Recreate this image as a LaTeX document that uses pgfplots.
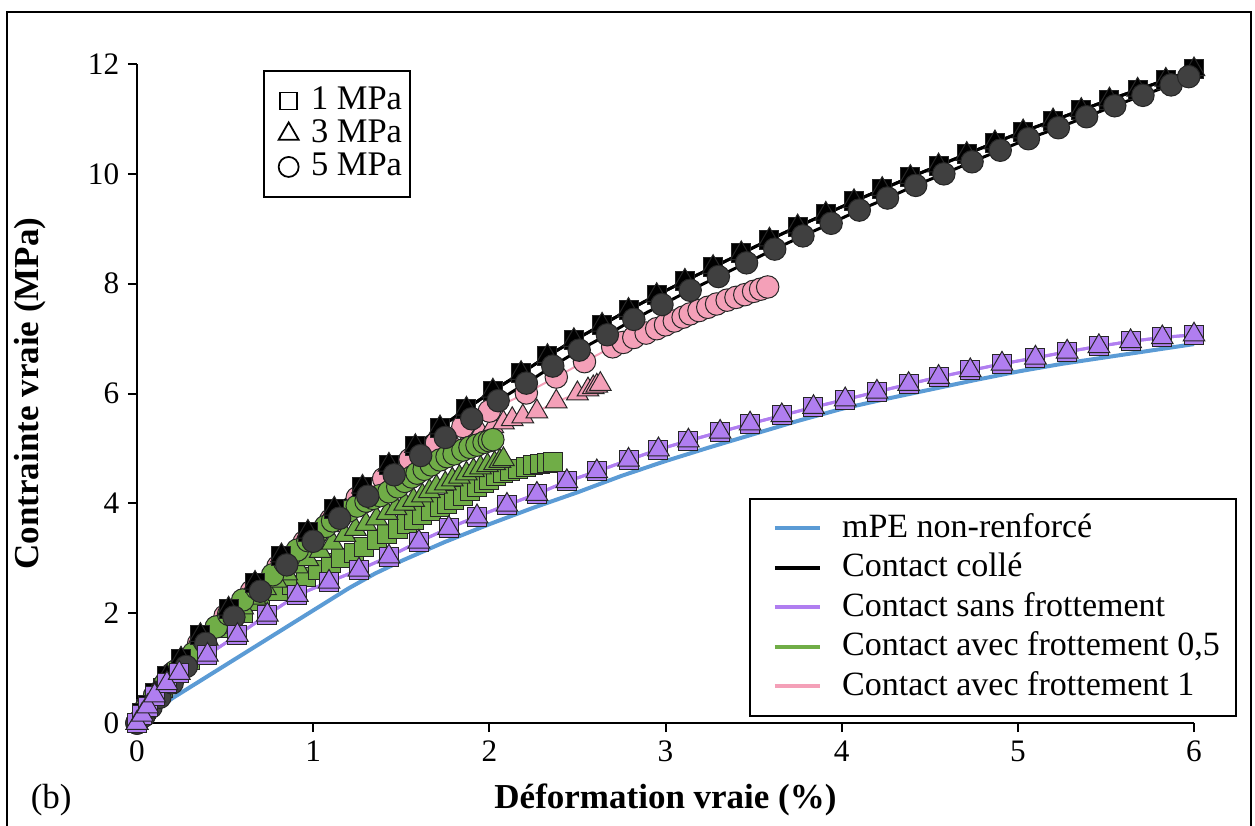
\documentclass[border=0pt]{standalone}
\usepackage{fontspec}
\setmainfont{Liberation Serif}
\usepackage{pgfplots}
\pgfplotsset{compat=1.18}
\definecolor{cblue}{HTML}{5B9BD5}
\definecolor{cpurp}{HTML}{B07EF0}
\definecolor{cgreen}{HTML}{70AD47}
\definecolor{cpink}{HTML}{F4A0B8}
\definecolor{cgray}{HTML}{404040}
\pgfplotsset{
  msq/.style={mark=square*, mark size=3.8pt},
  mtr/.style={mark=triangle*, mark size=5pt},
  mci/.style={mark=*, mark size=4.5pt},
  mk/.style={mark options={solid, draw=black!85, line width=0.4pt, fill=#1}},
}
\begin{document}
\begin{tikzpicture}
\path[use as bounding box] (-54.8pt,-40.8pt) rectangle (447.2pt,289.2pt);
\draw[line width=0.9pt] (-52pt,-45pt) rectangle (445.6pt,284.4pt);
\begin{axis}[
  at={(0pt,0pt)}, anchor=south west, scale only axis,
  width=422.8pt, height=263.6pt,
  xmin=0, xmax=6, ymin=0, ymax=12,
  axis lines*=left, axis line style={-, line width=0.8pt},
  tick align=outside, major tick length=3.6pt,
  tick style={line width=0.8pt, black},
  xtick={0,1,...,6}, ytick={0,2,...,12},
  clip=false,
  /pgf/number format/assume math mode=true,
  ticklabel style={font=\fontsize{12.5}{14}\selectfont},
  xlabel={Déformation vraie (\%)},
  ylabel={Contrainte vraie (MPa)},
  label style={font=\fontsize{14}{16}\selectfont\bfseries},
  xlabel style={at={(axis description cs:0.5,-0.117)}, anchor=center},
  ylabel style={at={(axis description cs:-0.101,0.5)}, anchor=center},
  legend style={at={(axis description cs:1.0407,0.009)}, anchor=south east,
    draw=black, line width=0.8pt, inner xsep=4.5pt, inner ysep=4pt,
    font=\fontsize{13.6}{15}\selectfont,
    nodes={text height=10pt, text depth=3pt, inner ysep=1.4pt, inner xsep=2pt}},
  legend cell align=left,
  legend image code/.code={\draw[#1, line width=1.6pt] (5pt,0pt) -- (23pt,0pt); \path (0pt,0pt) (29.5pt,0pt);},
]
% ---------- Contact avec frottement 1 (pink) ----------
\addplot[forget plot, cpink, line width=0.8pt, mtr, mk=cpink] coordinates {
(0,0)(0.1,0.5)(0.2,0.9)(0.35,1.4)(0.5,1.9)(0.65,2.35)(0.8,2.78)(0.95,3.2)(1.1,3.6)(1.25,3.95)(1.4,4.3)(1.55,4.6)(1.7,4.9)(1.8,5.07)(1.88,5.19)(1.95,5.3)(2.02,5.4)(2.08,5.47)(2.13,5.53)(2.19,5.58)(2.27,5.67)(2.38,5.85)(2.50,6.0)(2.56,6.07)(2.59,6.11)(2.61,6.14)(2.63,6.17)
};
\addplot[forget plot, cpink, line width=0.8pt, mci, mk=cpink] coordinates {
(0,0)(0.1,0.5)(0.2,0.9)(0.35,1.45)(0.5,1.95)(0.65,2.4)(0.8,2.85)(0.95,3.3)(1.1,3.7)(1.25,4.1)(1.4,4.45)(1.55,4.8)(1.7,5.1)(1.85,5.4)(2.0,5.68)(2.21,6.01)(2.38,6.30)(2.54,6.58)(2.70,6.85)(2.76,6.93)(2.82,7.02)(2.89,7.10)(2.95,7.18)(3.0,7.25)(3.05,7.32)(3.1,7.39)(3.14,7.45)(3.19,7.51)(3.24,7.57)(3.29,7.63)(3.35,7.70)(3.40,7.75)(3.45,7.80)(3.50,7.86)(3.54,7.90)(3.58,7.94)
};
% ---------- Contact avec frottement 0,5 (green) ----------
\addplot[forget plot, cgreen, line width=0.8pt, msq, mk=cgreen] coordinates {
(0,0)(0.05,0.25)(0.1,0.45)(0.15,0.63)(0.2,0.8)(0.3,1.15)(0.4,1.45)(0.5,1.73)(0.6,2.0)(0.7,2.22)(0.8,2.40)(0.88,2.52)(0.96,2.66)(1.03,2.79)(1.10,2.91)(1.16,3.0)(1.23,3.10)(1.29,3.21)(1.36,3.33)(1.42,3.45)(1.48,3.54)(1.53,3.62)(1.57,3.70)(1.62,3.78)(1.67,3.86)(1.72,3.93)(1.76,3.99)(1.80,4.06)(1.85,4.13)(1.89,4.22)(1.93,4.29)(1.97,4.37)(2.00,4.43)(2.04,4.49)(2.08,4.55)(2.12,4.59)(2.16,4.62)(2.21,4.66)(2.25,4.69)(2.29,4.72)(2.33,4.74)(2.36,4.76)
};
\addplot[forget plot, cgreen, line width=0.8pt, mtr, mk=cgreen] coordinates {
(0,0)(0.05,0.27)(0.1,0.5)(0.15,0.7)(0.2,0.9)(0.27,1.12)(0.33,1.3)(0.4,1.53)(0.47,1.75)(0.53,1.92)(0.6,2.1)(0.67,2.28)(0.73,2.45)(0.79,2.59)(0.85,2.72)(0.91,2.85)(0.97,2.98)(1.04,3.13)(1.11,3.28)(1.18,3.42)(1.24,3.53)(1.30,3.62)(1.36,3.72)(1.42,3.82)(1.47,3.91)(1.52,3.99)(1.57,4.06)(1.62,4.14)(1.66,4.22)(1.70,4.30)(1.75,4.36)(1.79,4.43)(1.83,4.48)(1.87,4.54)(1.91,4.60)(1.95,4.65)(1.99,4.69)(2.03,4.73)(2.06,4.77)(2.08,4.80)
};
\addplot[forget plot, cgreen, line width=0.8pt, mci, mk=cgreen] coordinates {
(0,0)(0.05,0.27)(0.1,0.5)(0.16,0.72)(0.22,0.95)(0.32,1.27)(0.38,1.5)(0.45,1.75)(0.52,1.98)(0.6,2.24)(0.68,2.45)(0.77,2.70)(0.84,2.92)(0.91,3.15)(0.97,3.32)(1.02,3.45)(1.07,3.58)(1.11,3.68)(1.15,3.77)(1.20,3.86)(1.25,3.95)(1.30,4.04)(1.34,4.09)(1.38,4.14)(1.43,4.21)(1.48,4.30)(1.52,4.40)(1.56,4.48)(1.59,4.55)(1.63,4.62)(1.67,4.70)(1.72,4.79)(1.76,4.85)(1.80,4.90)(1.85,4.97)(1.89,5.02)(1.93,5.06)(1.97,5.11)(2.00,5.14)(2.02,5.16)
};
% ---------- Contact colle (black) ----------
\addplot[forget plot, black, line width=1.2pt, msq, mk=black] coordinates {
(0,0)(0.03,0.18)(0.06,0.33)(0.10,0.55)(0.17,0.85)(0.25,1.17)(0.36,1.60)(0.52,2.08)(0.67,2.55)(0.82,3.05)(0.97,3.48)(1.12,3.90)(1.28,4.30)(1.43,4.70)(1.58,5.04)(1.72,5.38)(1.87,5.72)(2.02,6.05)(2.18,6.37)(2.33,6.68)(2.48,6.97)(2.64,7.25)(2.79,7.52)(2.95,7.79)(3.11,8.05)(3.27,8.30)(3.43,8.55)(3.59,8.80)(3.75,9.04)(3.91,9.27)(4.07,9.50)(4.23,9.72)(4.39,9.94)(4.55,10.15)(4.71,10.36)(4.87,10.57)(5.03,10.77)(5.20,10.97)(5.36,11.16)(5.52,11.35)(5.68,11.53)(5.84,11.71)(6.00,11.90)
};
\addplot[forget plot, black, line width=1.2pt, mtr, mk=black] coordinates {
(0,0)(0.03,0.18)(0.06,0.33)(0.10,0.55)(0.17,0.85)(0.25,1.17)(0.36,1.60)(0.52,2.08)(0.67,2.55)(0.82,3.05)(0.97,3.48)(1.12,3.90)(1.28,4.30)(1.43,4.70)(1.58,5.04)(1.72,5.38)(1.87,5.72)(2.02,6.05)(2.18,6.37)(2.33,6.68)(2.48,6.97)(2.64,7.25)(2.79,7.52)(2.95,7.79)(3.11,8.05)(3.27,8.30)(3.43,8.55)(3.59,8.80)(3.75,9.04)(3.91,9.27)(4.07,9.50)(4.23,9.72)(4.39,9.94)(4.55,10.15)(4.71,10.36)(4.87,10.57)(5.03,10.77)(5.20,10.97)(5.36,11.16)(5.52,11.35)(5.68,11.53)(5.84,11.71)(6.00,11.90)
};
\addplot[forget plot, black, line width=1.2pt, mci, mk=cgray] coordinates {
(0,0)(0.04,0.13)(0.08,0.29)(0.13,0.47)(0.20,0.73)(0.28,1.03)(0.39,1.45)(0.55,1.93)(0.70,2.40)(0.85,2.88)(1.00,3.31)(1.15,3.73)(1.31,4.13)(1.46,4.52)(1.61,4.87)(1.75,5.20)(1.90,5.54)(2.05,5.87)(2.21,6.19)(2.36,6.50)(2.51,6.79)(2.67,7.07)(2.82,7.35)(2.98,7.62)(3.14,7.88)(3.30,8.13)(3.46,8.38)(3.62,8.63)(3.78,8.87)(3.94,9.10)(4.10,9.34)(4.26,9.56)(4.42,9.79)(4.58,10.00)(4.74,10.22)(4.90,10.43)(5.06,10.64)(5.23,10.84)(5.39,11.04)(5.55,11.24)(5.71,11.43)(5.87,11.62)(5.97,11.77)
};
% ---------- Contact sans frottement (purple) ----------
\addplot[forget plot, cpurp, line width=1.2pt, msq, mk=cpurp] coordinates {
(0,0)(0.03,0.15)(0.06,0.3)(0.10,0.5)(0.17,0.72)(0.24,0.91)(0.40,1.24)(0.57,1.60)(0.74,1.97)(0.91,2.33)(1.09,2.57)(1.26,2.79)(1.43,3.03)(1.60,3.30)(1.77,3.55)(1.93,3.76)(2.10,3.97)(2.27,4.17)(2.44,4.40)(2.61,4.58)(2.79,4.79)(2.96,4.98)(3.13,5.14)(3.31,5.30)(3.48,5.45)(3.66,5.60)(3.84,5.75)(4.02,5.89)(4.20,6.03)(4.38,6.17)(4.55,6.30)(4.73,6.42)(4.91,6.54)(5.10,6.65)(5.28,6.76)(5.46,6.86)(5.64,6.95)(5.82,7.02)(6.00,7.07)
};
\addplot[forget plot, cpurp, line width=1.2pt, mtr, mk=cpurp] coordinates {
(0,0)(0.03,0.15)(0.06,0.3)(0.10,0.5)(0.17,0.72)(0.24,0.91)(0.40,1.24)(0.57,1.60)(0.74,1.97)(0.91,2.33)(1.09,2.57)(1.26,2.79)(1.43,3.03)(1.60,3.30)(1.77,3.55)(1.93,3.76)(2.10,3.97)(2.27,4.17)(2.44,4.40)(2.61,4.58)(2.79,4.79)(2.96,4.98)(3.13,5.14)(3.31,5.30)(3.48,5.45)(3.66,5.60)(3.84,5.75)(4.02,5.89)(4.20,6.03)(4.38,6.17)(4.55,6.30)(4.73,6.42)(4.91,6.54)(5.10,6.65)(5.28,6.76)(5.46,6.86)(5.64,6.95)(5.82,7.02)(6.00,7.07)
};
% ---------- mPE non-renforce (blue) ----------
\addplot[forget plot, cblue, line width=1.6pt, no markers] coordinates {
(0,0)(0.1,0.22)(0.2,0.45)(0.5,1.05)(0.8,1.65)(1.0,2.05)(1.2,2.45)(1.35,2.72)(1.5,2.95)(1.75,3.3)(2.0,3.62)(2.25,3.92)(2.5,4.2)(2.75,4.5)(3.0,4.77)(3.25,5.02)(3.5,5.26)(3.75,5.5)(4.0,5.72)(4.25,5.9)(4.5,6.07)(4.75,6.24)(5.0,6.4)(5.25,6.54)(5.5,6.66)(5.75,6.78)(6.0,6.9)
};
\addlegendimage{cblue}
\addlegendentry{mPE non-renforcé}
\addlegendimage{black}
\addlegendentry{Contact collé}
\addlegendimage{cpurp}
\addlegendentry{Contact sans frottement}
\addlegendimage{cgreen}
\addlegendentry{Contact avec frottement 0,5}
\addlegendimage{cpink}
\addlegendentry{Contact avec frottement 1}
\node[anchor=west, font=\fontsize{14}{16}\selectfont] at (axis description cs:-0.1088,-0.117) {(b)};
\end{axis}
\begin{axis}[
  at={(0pt,0pt)}, anchor=south west, scale only axis,
  width=422.8pt, height=263.6pt, hide axis,
  xmin=0, xmax=1, ymin=0, ymax=1,
  legend style={at={(axis description cs:0.119,0.991)}, anchor=north west,
    draw=black, line width=0.8pt, inner xsep=1.2pt, inner ysep=5.4pt,
    font=\fontsize{13.8}{15}\selectfont,
    nodes={text height=9.5pt, text depth=2.5pt, inner ysep=0.6pt, inner xsep=2pt}},
  legend cell align=left,
  legend image code/.code={\draw[#1] plot coordinates {(8.4pt,0pt)}; \path (0pt,0pt) (15pt,0pt);},
]
\addlegendimage{only marks, mark=square, mark size=3.4pt, black, line width=0.7pt}
\addlegendentry{1 MPa}
\addlegendimage{only marks, mark=triangle, mark size=4.6pt, black, line width=0.7pt}
\addlegendentry{3 MPa}
\addlegendimage{only marks, mark=o, mark size=4pt, black, line width=0.7pt}
\addlegendentry{5 MPa}
\end{axis}
\end{tikzpicture}
\end{document}
